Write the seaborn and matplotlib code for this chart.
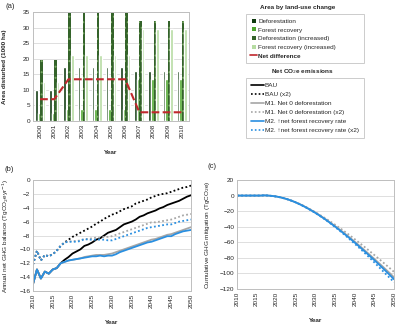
import numpy as np
import pandas as pd
import seaborn as sns
import matplotlib.pyplot as plt
from matplotlib.lines import Line2D

sns.set_style('white')
plt.rcParams['font.family'] = ['Liberation Sans', 'DejaVu Sans']
plt.rcParams['hatch.linewidth'] = 0.7

# ---------------- panel (a) data ----------------
years_a = ['2000', '2001', '2002', '2003', '2004', '2005', '2006', '2007', '2008', '2009', '2010']
deforestation = [10.0, 10.0, 17.3, 17.3, 17.3, 17.3, 17.3, 16.2, 16.2, 16.2, 16.2]
recovery = [2.7, 2.7, 4.0, 4.0, 4.0, 4.0, 4.0, 13.4, 13.4, 13.4, 13.4]
deforestation_inc = [19.5, 19.5, 34.8, 34.8, 34.8, 34.8, 34.8, 32.2, 32.2, 32.2, 32.2]
recovery_inc = [12.5, 12.5, 21.3, 21.3, 21.3, 21.3, 21.3, 29.7, 29.7, 29.7, 29.7]
net_difference = [7.0, 7.0, 13.4, 13.4, 13.4, 13.4, 13.4, 2.8, 2.8, 2.8, 2.8]

bar_types = ['Deforestation', 'Forest recovery', 'Deforestation (increased)', 'Forest recovery (increased)']
bar_colors = ['#0f3a0f', '#4ea72e', '#34632a', '#b6dca2']

# ---------------- panel (b) data ----------------
years_b = list(range(2010, 2051))
bau = [-15.0, -12.9, -14.2, -13.2, -13.5, -12.9, -12.7, -12.0, -11.5, -11.1, -10.6, -10.3, -10.0, -9.5,
       -9.3, -9.0, -8.6, -8.4, -8.0, -7.6, -7.4, -7.2, -6.8, -6.4, -6.2, -6.0, -5.7, -5.3, -5.1, -4.8,
       -4.6, -4.4, -4.1, -3.9, -3.6, -3.4, -3.2, -3.0, -2.7, -2.4, -2.2]
bau_x2 = [-12.2, -10.2, -11.6, -10.8, -11.0, -10.7, -10.2, -9.5, -9.0, -8.6, -8.2, -7.9, -7.6, -7.3,
          -7.0, -6.7, -6.3, -6.0, -5.6, -5.3, -5.0, -4.8, -4.5, -4.2, -4.0, -3.8, -3.4, -3.2, -3.0,
          -2.8, -2.5, -2.3, -2.1, -2.0, -1.9, -1.7, -1.5, -1.3, -1.1, -1.0, -0.8]
m1 = [-15.0, -12.9, -14.2, -13.2, -13.5, -12.9, -12.7, -12.0, -11.8, -11.6, -11.5, -11.4, -11.3, -11.1,
      -11.0, -10.9, -10.8, -10.8, -10.8, -10.7, -10.6, -10.4, -10.2, -10.0, -9.8, -9.6, -9.4, -9.2,
      -9.0, -8.8, -8.6, -8.5, -8.3, -8.1, -7.9, -7.8, -7.6, -7.4, -7.2, -7.0, -6.8]
m1_x2 = [-12.2, -10.2, -11.6, -10.8, -11.0, -10.7, -10.2, -9.5, -9.0, -8.9, -8.8, -8.8, -8.7, -8.5,
         -8.5, -8.4, -8.3, -8.3, -8.2, -8.2, -8.1, -7.9, -7.7, -7.5, -7.3, -7.1, -6.9, -6.7, -6.5,
         -6.3, -6.1, -6.1, -6.0, -5.9, -5.8, -5.7, -5.5, -5.3, -5.1, -5.0, -4.9]
m2 = [-15.0, -12.9, -14.2, -13.2, -13.5, -12.9, -12.7, -12.0, -11.8, -11.6, -11.5, -11.4, -11.3, -11.2,
      -11.1, -11.0, -11.0, -10.9, -11.0, -10.9, -10.9, -10.7, -10.4, -10.2, -10.0, -9.8, -9.6, -9.4,
      -9.2, -9.0, -8.9, -8.7, -8.5, -8.3, -8.1, -8.1, -7.8, -7.6, -7.4, -7.3, -7.2]
m2_x2 = [-12.2, -10.2, -11.6, -10.8, -11.0, -10.7, -10.2, -9.5, -9.0, -8.9, -8.9, -8.9, -8.8, -8.5,
         -8.6, -8.6, -8.6, -8.6, -8.6, -8.7, -8.7, -8.5, -8.3, -8.1, -7.9, -7.7, -7.5, -7.3, -7.1,
         -6.9, -6.8, -6.7, -6.6, -6.5, -6.4, -6.4, -6.2, -6.0, -5.9, -5.8, -5.7]

# ---------------- panel (c) data ----------------
cum_m1 = [0, 0, 0, 0, 0, 0, 0, 0.3, 0, -0.5, -1.2, -2.2, -3.5, -5.0, -6.8, -8.8, -11.0, -13.5, -16.2,
          -19.0, -22.0, -25.2, -28.5, -32.0, -35.6, -39.3, -43.1, -47.0, -51.0, -55.1, -59.3, -63.6,
          -68.0, -72.4, -76.9, -81.4, -86.0, -90.6, -95.3, -100.0, -105.0]
cum_m1_x2 = [0, 0, 0, 0, 0, 0, 0, 0.3, 0, -0.5, -1.2, -2.2, -3.5, -5.0, -6.7, -8.7, -10.8, -13.2, -15.8,
             -18.6, -21.5, -24.5, -27.6, -30.8, -34.1, -37.5, -41.0, -44.6, -48.3, -52.1, -56.0,
             -60.0, -64.0, -68.0, -72.2, -76.4, -80.6, -84.9, -89.2, -93.6, -98.0]
cum_m2 = [0, 0, 0, 0, 0, 0, 0, 0.3, 0, -0.5, -1.2, -2.2, -3.5, -5.0, -6.8, -8.9, -11.2, -13.7, -16.4,
          -19.3, -22.3, -25.5, -28.9, -32.4, -36.1, -39.9, -43.8, -47.8, -51.9, -56.1, -60.4, -64.8,
          -69.3, -73.8, -78.4, -83.0, -87.7, -92.5, -97.4, -102.4, -107.5]
cum_m2_x2 = [0, 0, 0, 0, 0, 0, 0, 0.3, 0, -0.5, -1.2, -2.2, -3.5, -5.0, -6.8, -8.9, -11.2, -13.8, -16.5,
             -19.4, -22.5, -25.8, -29.2, -32.8, -36.6, -40.5, -44.5, -48.7, -53.0, -57.4, -61.9,
             -66.5, -71.2, -76.0, -80.9, -85.9, -91.0, -96.1, -101.2, -106.2, -111.2]

scen = ['BAU', 'BAU (x2)', 'M1. Net 0 deforestation', 'M1. Net 0 deforestation (x2)',
        'M2. \u2191net forest recovery rate', 'M2. \u2191net forest recovery rate (x2)']
scen_colors = ['#000000', '#000000', '#a6a6a6', '#a6a6a6', '#2a8fe0', '#2a8fe0']
dot = (1, 1.3)
scen_dashes = ['', dot, '', dot, '', dot]

txt = '#262626'
grid_c = '#d9d9d9'
frame_c = '#bfbfbf'
fs = 4.6


def style_axes(ax):
    for s in ax.spines.values():
        s.set_color(frame_c)
        s.set_linewidth(0.7)
    ax.yaxis.grid(True, color=grid_c, lw=0.6)
    ax.set_axisbelow(True)
    ax.tick_params(axis='both', labelsize=fs, colors=txt, length=0, pad=2)
    ax.tick_params(axis='x', rotation=90)


fig = plt.figure(figsize=(3.97, 3.27), dpi=100)

# ---------------- (a) ----------------
ax_a = fig.add_axes([33 / 397, 1 - 121 / 327, 156 / 397, 109 / 327])
df_a = pd.DataFrame({'Year': years_a * 4,
                     'Area': deforestation + recovery + deforestation_inc + recovery_inc,
                     'Type': sum([[t] * len(years_a) for t in bar_types], [])})
sns.barplot(data=df_a, x='Year', y='Area', hue='Type', hue_order=bar_types, palette=bar_colors,
            width=0.72, saturation=1, legend=False, ax=ax_a, order=years_a)
for p in ax_a.containers[2]:
    p.set_hatch('...')
    p.set_edgecolor('#7aa865')
    p.set_linewidth(0)
sns.pointplot(x=years_a, y=net_difference, order=years_a, color='#c0282d', linestyle='--',
              marker='', linewidth=1.5, errorbar=None, ax=ax_a)
ax_a.set_ylim(0, 35)
ax_a.set_yticks(range(0, 36, 5))
ax_a.set_xlim(-0.5, 10.5)
style_axes(ax_a)
ax_a.set_xlabel('Year', fontsize=fs, fontweight='bold', color=txt)
ax_a.xaxis.set_label_coords(0.5, -0.27)
ax_a.set_ylabel('Area disturbed (1000 ha)', fontsize=fs, fontweight='bold', color=txt)
ax_a.yaxis.set_label_coords(-0.165, 0.5)

# ---------------- (b) ----------------
ax_b = fig.add_axes([33 / 397, 1 - 291 / 327, 158 / 397, 111 / 327])
df_b = pd.DataFrame({'Year': years_b * 6,
                     'Value': bau + bau_x2 + m1 + m1_x2 + m2 + m2_x2,
                     'Scenario': sum([[s] * len(years_b) for s in scen], [])})
sns.lineplot(data=df_b, x='Year', y='Value', hue='Scenario', style='Scenario', hue_order=scen,
             style_order=scen, palette=scen_colors, dashes=scen_dashes, linewidth=1.3,
             legend=False, ax=ax_b)
ax_b.set_xlim(2010, 2050)
ax_b.set_xticks(range(2010, 2051, 5))
ax_b.set_ylim(-16, 0)
ax_b.set_yticks(range(-16, 1, 2))
style_axes(ax_b)
ax_b.set_xlabel('Year', fontsize=fs, fontweight='bold', color=txt)
ax_b.xaxis.set_label_coords(0.5, -0.26)
ax_b.set_ylabel('Annual net GHG balance (TgCO$_2$eyr$^{-1}$)', fontsize=fs, color=txt)
ax_b.yaxis.set_label_coords(-0.14, 0.5)

# ---------------- (c) ----------------
ax_c = fig.add_axes([237 / 397, 1 - 289 / 327, 157 / 397, 109 / 327])
df_c = pd.DataFrame({'Year': years_b * 4,
                     'Value': cum_m1 + cum_m1_x2 + cum_m2 + cum_m2_x2,
                     'Scenario': sum([[s] * len(years_b) for s in scen[2:]], [])})
sns.lineplot(data=df_c, x='Year', y='Value', hue='Scenario', style='Scenario', hue_order=scen[2:],
             style_order=scen[2:], palette=scen_colors[2:], dashes=scen_dashes[2:], linewidth=1.3,
             legend=False, ax=ax_c)
ax_c.set_xlim(2010, 2050)
ax_c.set_xticks(range(2010, 2051, 5))
ax_c.set_ylim(-120, 20)
ax_c.set_yticks(range(-120, 21, 20))
style_axes(ax_c)
ax_c.set_xlabel('Year', fontsize=fs, fontweight='bold', color=txt)
ax_c.xaxis.set_label_coords(0.5, -0.27)
ax_c.set_ylabel('Cumulative GHG mitigation (TgCO$_2$e)', fontsize=fs, color=txt)
ax_c.yaxis.set_label_coords(-0.16, 0.5)

# ---------------- legends ----------------
leg_w = 118 / 397
h1 = [Line2D([], [], ls='', marker='s', ms=2.8, color=c, markeredgewidth=0) for c in bar_colors]
h1.append(Line2D([], [], color='#c0282d', lw=1.2))
leg1 = fig.legend(h1, bar_types + ['Net difference'], loc='upper left', mode='expand',
                  bbox_to_anchor=(246 / 397, 1 - 14 / 327 - 0.01, leg_w, 0.01), fontsize=fs,
                  frameon=True, fancybox=False, edgecolor=frame_c, handlelength=1.0,
                  handletextpad=0.2, labelspacing=0.5, borderpad=0.7, borderaxespad=0,
                  labelcolor=txt)
leg1.get_frame().set_linewidth(0.7)
leg1.get_texts()[-1].set_fontweight('bold')
fig.text(298 / 397, 1 - 8 / 327, 'Area by land-use change', fontsize=fs, fontweight='bold',
         ha='center', va='center', color=txt)

h2 = [Line2D([], [], color=c, lw=1.2, ls='-' if d == '' else (0, d)) for c, d in zip(scen_colors, scen_dashes)]
leg2 = fig.legend(h2, scen, loc='upper left', mode='expand',
                  bbox_to_anchor=(246 / 397, 1 - 78 / 327 - 0.01, leg_w, 0.01),
                  fontsize=fs, frameon=True, fancybox=False, edgecolor=frame_c, handlelength=2.0,
                  handletextpad=0.2, labelspacing=0.55, borderpad=0.75, borderaxespad=0,
                  labelcolor=txt)
leg2.get_frame().set_linewidth(0.7)
fig.text(302 / 397, 1 - 72 / 327, 'Net CO$_2$e emissions', fontsize=fs, fontweight='bold',
         ha='center', va='center', color=txt)

# panel letters
fig.text(10 / 397, 1 - 6 / 327, '(a)', fontsize=5.5, ha='center', va='center', color=txt)
fig.text(9 / 397, 1 - 169 / 327, '(b)', fontsize=5.5, ha='center', va='center', color=txt)
fig.text(212 / 397, 1 - 167 / 327, '(c)', fontsize=5.5, ha='center', va='center', color=txt)

fig.savefig('out.png', dpi=100)
